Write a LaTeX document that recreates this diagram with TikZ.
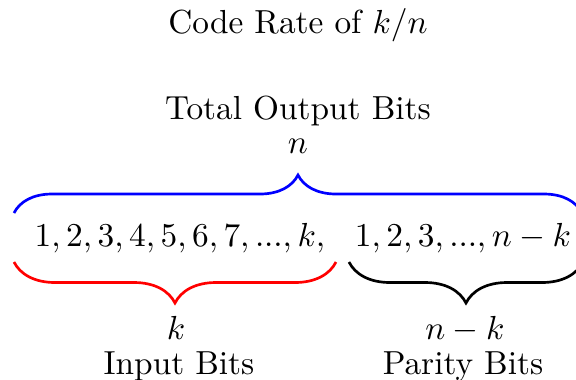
\documentclass[tikz,border=0pt]{standalone}
\usetikzlibrary{decorations.pathreplacing}
\begin{document}
\begin{tikzpicture}[x=0.3pt,y=-0.3pt,
  lbl/.style={anchor=base,inner sep=0pt},
  bracedeco/.style={decorate,decoration={brace,amplitude=#1},line width=0.8pt}]
\clip (0,0) rectangle (576,379);
\node[lbl] (title) at (298,33) {Code Rate of $k/n$};
\node[lbl] (total) at (298,119) {Total Output Bits};
\node[lbl] (n) at (298,153) {$n$};
\node[lbl] (seqA) at (180,246) {$1,2,3,4,5,6,7,...,k,$};
\node[lbl] (seqB) at (463,246) {$1,2,3,...,n-k$};
\node[lbl] (k) at (176,339) {$k$};
\node[lbl] (input) at (179,374) {Input Bits};
\node[lbl] (nk) at (465,339) {$n-k$};
\node[lbl] (parity) at (463,374) {Parity Bits};
\coordinate (bL) at (14,213);
\coordinate (bR) at (582,213);
\coordinate (rL) at (14,262);
\coordinate (rR) at (336,262);
\coordinate (kL) at (349,262);
\coordinate (kR) at (583,262);
\draw[bracedeco=11.4pt,blue] (bL) -- (bR);
\draw[bracedeco=12.3pt,red] (rR) -- (rL);
\draw[bracedeco=12.3pt] (kR) -- (kL);
\end{tikzpicture}
\end{document}
